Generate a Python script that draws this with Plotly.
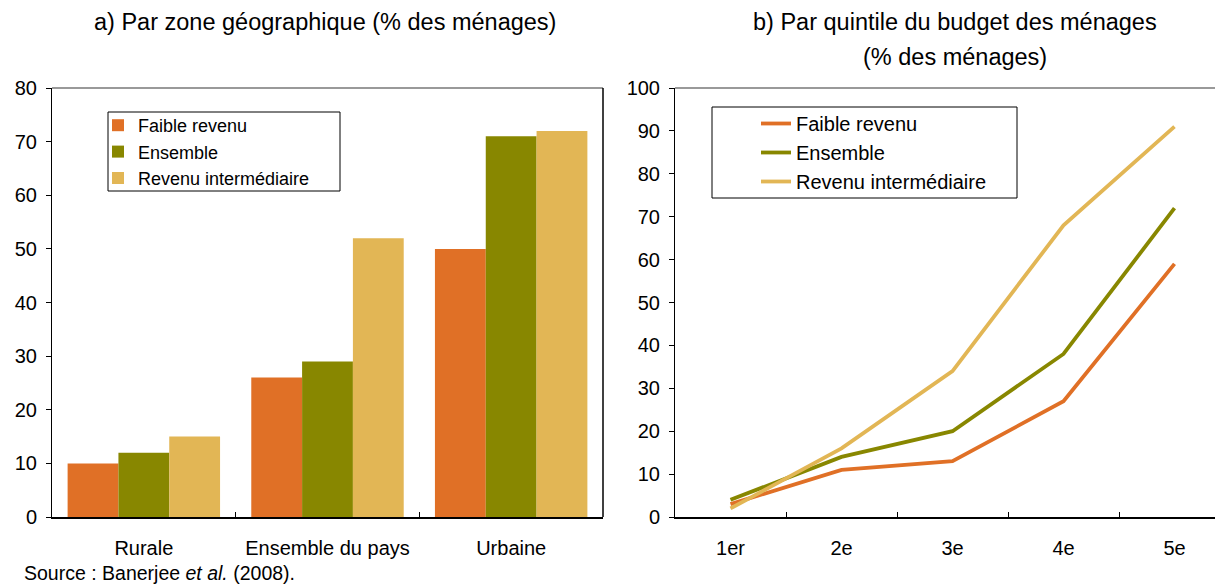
import plotly.graph_objects as go

# Panel a: share of households by area
zones = ["Rurale", "Ensemble du pays", "Urbaine"]
zone_faible = [10, 26, 50]
zone_ensemble = [12, 29, 71]
zone_intermediaire = [15, 52, 72]

# Panel b: share of households by budget quintile
quintiles = ["1er", "2e", "3e", "4e", "5e"]
quint_faible = [3, 11, 13, 27, 59]
quint_ensemble = [4, 14, 20, 38, 72]
quint_intermediaire = [2, 16, 34, 68, 91]

series_names = ["Faible revenu", "Ensemble", "Revenu intermédiaire"]
colors = ["#E07026", "#888700", "#E2B655"]

FONT = "Liberation Sans, Arial, sans-serif"
W, H = 1215, 586


def px_x(x):
    return x / W


def px_y(y):
    return (H - y) / H


fig = go.Figure()

for name, vals, col in zip(series_names,
                           [zone_faible, zone_ensemble, zone_intermediaire],
                           colors):
    fig.add_trace(go.Bar(x=zones, y=vals, name=name, marker_color=col,
                         marker_line_width=0, xaxis="x", yaxis="y",
                         legend="legend"))

for name, vals, col in zip(series_names,
                           [quint_faible, quint_ensemble, quint_intermediaire],
                           colors):
    fig.add_trace(go.Scatter(x=quintiles, y=vals, name=name, mode="lines",
                             line=dict(color=col, width=3.8),
                             xaxis="x2", yaxis="y2", legend="legend2"))

y_dom = [px_y(517), px_y(88)]
tickfont = dict(family=FONT, size=20, color="#000")

common_y = dict(showline=True, linecolor="#000", linewidth=1, ticks="outside",
                ticklen=5, tickcolor="#000", showgrid=False, zeroline=False,
                tickfont=tickfont, domain=y_dom, automargin=False,
                ticklabelstandoff=5)
common_x = dict(type="category", showline=True, linecolor="#000", linewidth=1.5,
                ticks="inside", ticklen=5, tickcolor="#000", tickson="boundaries",
                showgrid=False, tickfont=tickfont, automargin=False,
                ticklabelstandoff=12)

fig.update_layout(
    width=W, height=H,
    margin=dict(l=0, r=0, t=0, b=0, autoexpand=False),
    paper_bgcolor="white", plot_bgcolor="white",
    font=dict(family=FONT, size=20, color="#000"),
    barmode="group", bargap=0.17, bargroupgap=0,
    xaxis=dict(common_x, domain=[px_x(52), px_x(603)], range=[-0.5, 2.5]),
    yaxis=dict(common_y, range=[0, 80], dtick=10, anchor="x"),
    xaxis2=dict(common_x, domain=[px_x(675), 1.0],
                range=[-0.5, -0.5 + (W - 675) / 111]),
    yaxis2=dict(common_y, range=[0, 100], dtick=10, anchor="x2"),
    legend=dict(x=px_x(98), y=px_y(107), xanchor="left", yanchor="top",
                bgcolor="rgba(0,0,0,0)", borderwidth=0,
                font=dict(family=FONT, size=18, color="#000"),
                traceorder="normal", tracegroupgap=0),
    legend2=dict(x=px_x(756), y=px_y(104), xanchor="left", yanchor="top",
                 bgcolor="rgba(0,0,0,0)", borderwidth=0,
                 font=dict(family=FONT, size=20, color="#000"),
                 traceorder="normal", tracegroupgap=0),
    showlegend=True,
)

# Panel frames (top in grey, right in black) and legend boxes
shapes = [
    dict(type="line", xref="paper", yref="paper", x0=px_x(52), x1=px_x(603),
         y0=y_dom[1], y1=y_dom[1], line=dict(color="#777", width=1.5)),
    dict(type="line", xref="paper", yref="paper", x0=px_x(603), x1=px_x(603),
         y0=y_dom[0], y1=y_dom[1], line=dict(color="#000", width=1.5)),
    dict(type="line", xref="paper", yref="paper", x0=px_x(675), x1=1.0,
         y0=y_dom[1], y1=y_dom[1], line=dict(color="#777", width=1.5)),
    dict(type="rect", xref="paper", yref="paper", x0=px_x(108), x1=px_x(340),
         y0=px_y(191), y1=px_y(112), line=dict(color="#000", width=1),
         fillcolor="white", layer="below"),
    dict(type="rect", xref="paper", yref="paper", x0=px_x(712), x1=px_x(1017),
         y0=px_y(198), y1=px_y(107), line=dict(color="#000", width=1),
         fillcolor="white", layer="below"),
]
fig.update_layout(shapes=shapes)

ann_font = dict(family=FONT, size=23.5, color="#000")
fig.add_annotation(text="a) Par zone géographique (% des ménages)",
                   xref="paper", yref="paper", x=px_x(325), y=px_y(22),
                   xanchor="center", yanchor="middle", showarrow=False,
                   font=ann_font)
fig.add_annotation(text="b) Par quintile du budget des ménages",
                   xref="paper", yref="paper", x=px_x(955), y=px_y(22),
                   xanchor="center", yanchor="middle", showarrow=False,
                   font=ann_font)
fig.add_annotation(text="(% des ménages)",
                   xref="paper", yref="paper", x=px_x(955), y=px_y(57),
                   xanchor="center", yanchor="middle", showarrow=False,
                   font=ann_font)
fig.add_annotation(text="Source : Banerjee <i>et al.</i> (2008).",
                   xref="paper", yref="paper", x=px_x(22), y=px_y(573),
                   xanchor="left", yanchor="middle", showarrow=False,
                   font=dict(family=FONT, size=19.5, color="#000"))

fig.write_html("out.html")
